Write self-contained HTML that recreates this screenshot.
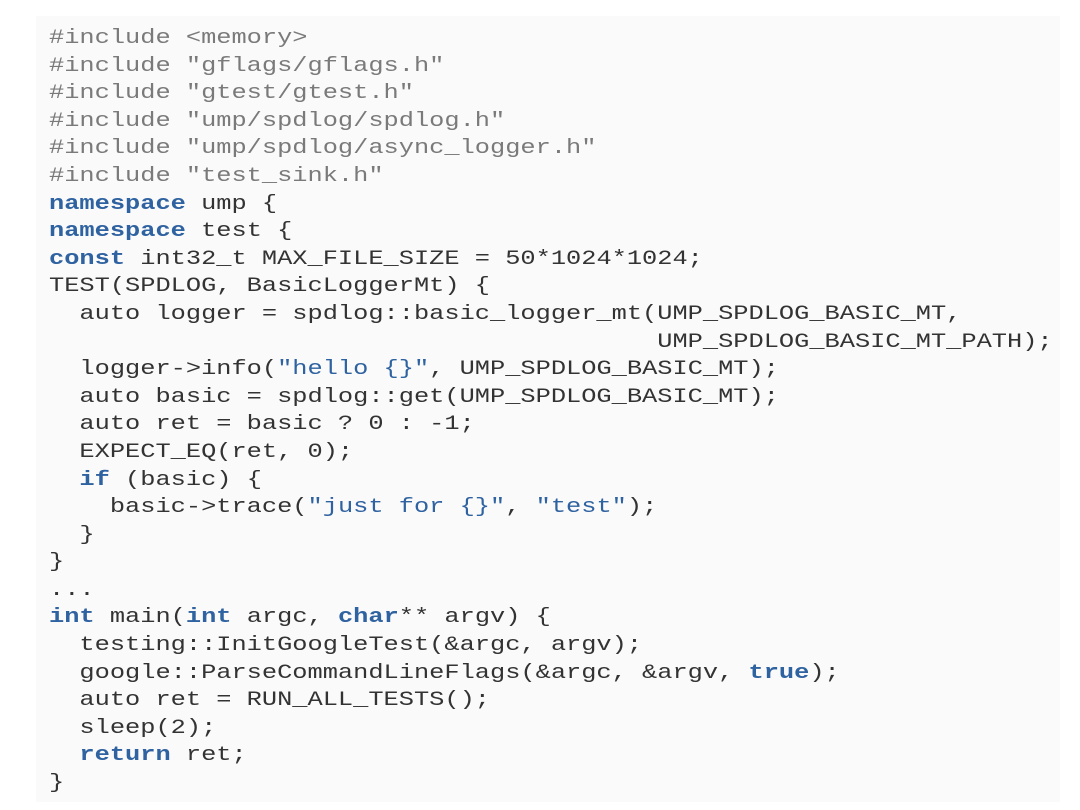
<!DOCTYPE html>
<html><head><meta charset="utf-8"><style>
html,body{margin:0;padding:0;background:#fff;width:1080px;height:810px;overflow:hidden}
.bg{position:absolute;left:36px;top:16px;width:1024px;height:786px;background:#fafafa}
pre{position:absolute;left:49px;top:25px;margin:0;font-family:"Liberation Mono",monospace;font-size:20px;line-height:27.6px;color:#333;transform:scaleX(1.267);transform-origin:0 0;white-space:pre}
.c{color:#7a7a7a}.k{color:#2f62a0;font-weight:bold}.s{color:#2f62a0}
</style></head><body><div class="bg"></div><pre><span class="c">#include &lt;memory&gt;
#include "gflags/gflags.h"
#include "gtest/gtest.h"
#include "ump/spdlog/spdlog.h"
#include "ump/spdlog/async_logger.h"
#include "test_sink.h"</span>
<span class="k">namespace</span> ump {
<span class="k">namespace</span> test {
<span class="k">const</span> int32_t MAX_FILE_SIZE = 50*1024*1024;
TEST(SPDLOG, BasicLoggerMt) {
  auto logger = spdlog::basic_logger_mt(UMP_SPDLOG_BASIC_MT,
                                        UMP_SPDLOG_BASIC_MT_PATH);
  logger-&gt;info(<span class="s">"hello {}"</span>, UMP_SPDLOG_BASIC_MT);
  auto basic = spdlog::get(UMP_SPDLOG_BASIC_MT);
  auto ret = basic ? 0 : -1;
  EXPECT_EQ(ret, 0);
  <span class="k">if</span> (basic) {
    basic-&gt;trace(<span class="s">"just for {}"</span>, <span class="s">"test"</span>);
  }
}
...
<span class="k">int</span> main(<span class="k">int</span> argc, <span class="k">char</span>** argv) {
  testing::InitGoogleTest(&amp;argc, argv);
  google::ParseCommandLineFlags(&amp;argc, &amp;argv, <span class="k">true</span>);
  auto ret = RUN_ALL_TESTS();
  sleep(2);
  <span class="k">return</span> ret;
}</pre></body></html>
